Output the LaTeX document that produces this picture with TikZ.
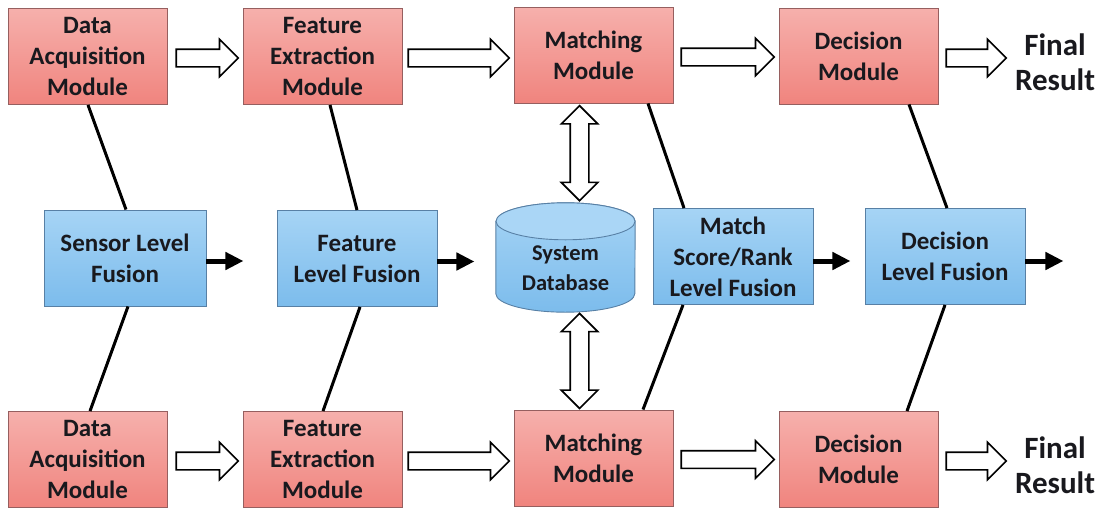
\documentclass[tikz,border=0pt]{standalone}
\usepackage{fontspec}
\newfontfamily\carl{Carlito}
\usetikzlibrary{shapes.arrows,arrows.meta,calc}
\definecolor{pinktop}{RGB}{246,176,172}
\definecolor{pinkbot}{RGB}{240,132,126}
\definecolor{pinkedge}{RGB}{150,95,95}
\definecolor{bluetop}{RGB}{166,212,245}
\definecolor{bluebot}{RGB}{124,188,236}
\definecolor{blueedge}{RGB}{88,128,165}
\definecolor{cyltop}{RGB}{170,214,246}
\definecolor{textdark}{RGB}{25,25,30}
\tikzset{
  x=1pt, y=1pt,
  boxtext/.style={font=\carl\bfseries\fontsize{25}{31}\selectfont, text=textdark, align=center},
  pinkbox/.style={boxtext, draw=pinkedge, line width=0.9pt, top color=pinktop, bottom color=pinkbot,
    minimum width=159pt, minimum height=96pt, inner sep=0pt},
  bluebox/.style={boxtext, draw=blueedge, line width=0.9pt, top color=bluetop, bottom color=bluebot,
    minimum width=160pt, minimum height=96pt, inner sep=0pt},
  resulttext/.style={font=\carl\bfseries\fontsize{31}{35}\selectfont, text=textdark, align=center},
  hollow/.style={single arrow, draw=black, line width=1.6pt, fill=white, inner xsep=0pt, inner ysep=8pt,
    minimum width=36pt, single arrow head extend=10pt, anchor=tail},
  hollowtwo/.style={double arrow, draw=black, line width=1.6pt, fill=white, inner xsep=0pt, inner ysep=8.5pt,
    minimum width=36pt, double arrow head extend=9pt, rotate=90},
  link/.style={draw=black, line width=3pt},
  fusearrow/.style={draw=black, line width=5pt, -{Triangle[length=18pt,width=17pt]}},
}
\begin{document}
\begin{tikzpicture}
\useasboundingbox (0,0) rectangle (1103,-509);

% module chains
\node[pinkbox] (A1) at (87.5,-56.5) {Data\\Acquisition\\Module};
\node[pinkbox] (F1) at (322.5,-56.5) {Feature\\Extraction\\Module};
\node[pinkbox] (M1) at (593.5,-55) {Matching\\Module};
\node[pinkbox] (D1) at (858.5,-56) {Decision\\Module};
\node[resulttext] (R1) at (1055,-62) {Final\\Result};

\node[pinkbox] (A2) at (87.5,-459.5) {Data\\Acquisition\\Module};
\node[pinkbox] (F2) at (322.5,-459.5) {Feature\\Extraction\\Module};
\node[pinkbox] (M2) at (593.5,-458) {Matching\\Module};
\node[pinkbox] (D2) at (858.5,-459.5) {Decision\\Module};
\node[resulttext] (R2) at (1055,-465) {Final\\Result};

% fusion levels
\node[bluebox, minimum width=162pt] (S) at (125,-258) {Sensor Level\\Fusion};
\node[bluebox] (FL) at (357,-258.5) {Feature\\Level Fusion};
\node[bluebox] (MS) at (733,-256.5) {Match\\Score/Rank\\Level Fusion};
\node[bluebox] (DL) at (945,-256.5) {Decision\\Level Fusion};

% database cylinder
\node[boxtext, minimum width=139pt, minimum height=109pt, inner sep=0pt] (db) at (565.5,-257.5) {};
\path[draw=blueedge, line width=0.9pt, top color=bluetop, bottom color=bluebot]
  ([yshift=-18.5pt]db.north west) -- ([yshift=18.5pt]db.south west)
  arc[start angle=180, end angle=360, x radius=69.5pt, y radius=18.5pt]
  -- ([yshift=-18.5pt]db.north east)
  arc[start angle=0, end angle=180, x radius=69.5pt, y radius=18.5pt] -- cycle;
\path[draw=blueedge, line width=0.9pt, fill=cyltop]
  ([yshift=-18.5pt]db.north) ellipse[x radius=69.5pt, y radius=18.5pt];
\node[boxtext, font=\carl\bfseries\fontsize{22.5}{30}\selectfont] at ([yshift=-11pt]db.center) {System\\Database};

% hollow flow arrows
\node[hollow, minimum height=62pt] at ([xshift=8pt,yshift=-1.5pt]A1.east) {};
\node[hollow, minimum height=101pt] at ([xshift=5pt,yshift=-1.5pt]F1.east) {};
\node[hollow, minimum height=93pt] at ([xshift=7pt,yshift=-2pt]M1.east) {};
\node[hollow, minimum height=60pt] at ([xshift=7pt,yshift=-2pt]D1.east) {};

\node[hollow, minimum height=62pt] at ([xshift=8pt,yshift=-1.5pt]A2.east) {};
\node[hollow, minimum height=101pt] at ([xshift=5pt,yshift=-1.5pt]F2.east) {};
\node[hollow, minimum height=93pt] at ([xshift=7pt,yshift=-1.5pt]M2.east) {};
\node[hollow, minimum height=60pt] at ([xshift=7pt,yshift=-1.5pt]D2.east) {};

\node[hollowtwo, minimum height=95pt] at ($(M1.south)!0.5!(db.north)$) {};
\node[hollowtwo, minimum height=95pt] at ($(db.south)!0.5!(M2.north)$) {};

% links between modules and fusion levels
\draw[link] ([xshift=0.5pt]A1.south) -- ([xshift=1pt]S.north);
\draw[link] ([xshift=3pt]S.south) -- ([xshift=2.5pt]A2.north);
\draw[link] ([xshift=7.5pt]F1.south) -- (FL.north);
\draw[link] ([xshift=3pt]FL.south) -- ([xshift=0.5pt]F2.north);
\draw[link] ([xshift=54.5pt]M1.south) -- ([xshift=-49pt]MS.north);
\draw[link] ([xshift=-50pt]MS.south) -- ([xshift=49.5pt]M2.north);
\draw[link] ([xshift=50.5pt]D1.south) -- ([xshift=2pt]DL.north);
\draw[link] (DL.south) -- ([xshift=48.5pt]D2.north);

% fusion outputs
\coordinate (So) at ([xshift=37pt,yshift=-3pt]S.east);
\coordinate (FLo) at ([xshift=37pt,yshift=-3pt]FL.east);
\coordinate (MSo) at ([xshift=37pt,yshift=-4.5pt]MS.east);
\coordinate (DLo) at ([xshift=38pt,yshift=-4.5pt]DL.east);
\draw[fusearrow] ([yshift=-3pt]S.east) -- (So);
\draw[fusearrow] ([yshift=-3pt]FL.east) -- (FLo);
\draw[fusearrow] ([yshift=-4.5pt]MS.east) -- (MSo);
\draw[fusearrow] ([yshift=-4.5pt]DL.east) -- (DLo);
\end{tikzpicture}
\end{document}
